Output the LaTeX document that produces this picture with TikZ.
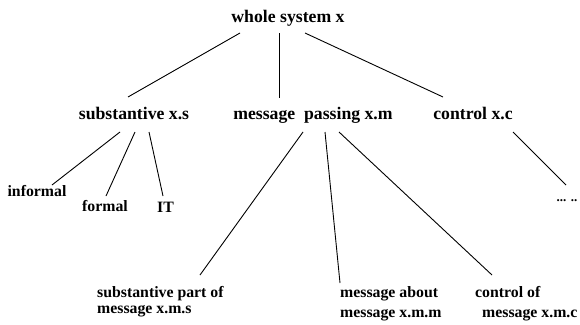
\documentclass[tikz,border=0pt]{standalone}
\usepackage{fontspec}
\setmainfont{Liberation Serif}
\usepackage{tikz}
\usetikzlibrary{positioning}
\tikzstyle{link} = [line width=0.9pt]
\tikzstyle{tBig} = [inner sep=0pt, anchor=base, font=\fontsize{17.7}{20}\selectfont\bfseries]
\tikzstyle{tSmall} = [inner sep=0pt, anchor=base, font=\fontsize{15.8}{16}\selectfont\bfseries]
\tikzstyle{tLeaf} = [inner sep=0pt, anchor=north west, align=left, font=\fontsize{15.8}{16}\selectfont\bfseries]

\begin{document}
\begin{tikzpicture}[x=1pt, y=-1pt]
        \useasboundingbox (0,0) rectangle (580,324);
        \node[tBig] (Whole) at (288,22) {whole system x};
        \node[tBig] (Subst) at (134,119) {substantive x.s};
        \node[tBig] (MsgPass) at (313,119) {message\ \ passing x.m};
        \node[tBig] (Control) at (473,119) {control x.c};
        \node[tSmall] (Informal) at (37,196) {informal};
        \node[tSmall] (Formal) at (105,211) {formal};
        \node[tSmall] (IT) at (165.5,212) {IT};
        \node[tSmall, font=\fontsize{13}{14}\selectfont\bfseries] (Dots) at (567,201) {... ..};
        \node[tLeaf] (SubPart) at (97,286) {substantive part of\\message x.m.s};
        \node[tLeaf] (MsgAbout) at (340,286) {message about\\[4pt]message x.m.m};
        \node[tLeaf] (CtrlOf) at (475,286) {control of\\[4pt]\hspace*{7pt}message x.m.c};
        % first level
        \draw[link] ([shift={(-48,11)}]Whole.base) -- ([shift={(-6,-22)}]Subst.base);
        \draw[link] ([shift={(-9,11)}]Whole.base) -- ([shift={(-34,-21)}]MsgPass.base);
        \draw[link] ([shift={(17,11)}]Whole.base) -- ([shift={(-30,-22)}]Control.base);
        % second level
        \draw[link] ([shift={(-14,13)}]Subst.base) -- ([shift={(15,-11)}]Informal.base);
        \draw[link] ([shift={(1,13)}]Subst.base) -- ([shift={(1,-15)}]Formal.base);
        \draw[link] ([shift={(15,13)}]Subst.base) -- ([shift={(-2.5,-16)}]IT.base);
        \draw[link] ([shift={(-10,13)}]MsgPass.base) -- ([shift={(103,-11)}]SubPart.north west);
        \draw[link] ([shift={(12,13)}]MsgPass.base) -- ([shift={(0,-3)}]MsgAbout.north west);
        \draw[link] ([shift={(26,13)}]MsgPass.base) -- ([shift={(17,-11)}]CtrlOf.north west);
        \draw[link] ([shift={(40,13)}]Control.base) -- ([shift={(-1,-16)}]Dots.base);
    \end{tikzpicture}
\end{document}
